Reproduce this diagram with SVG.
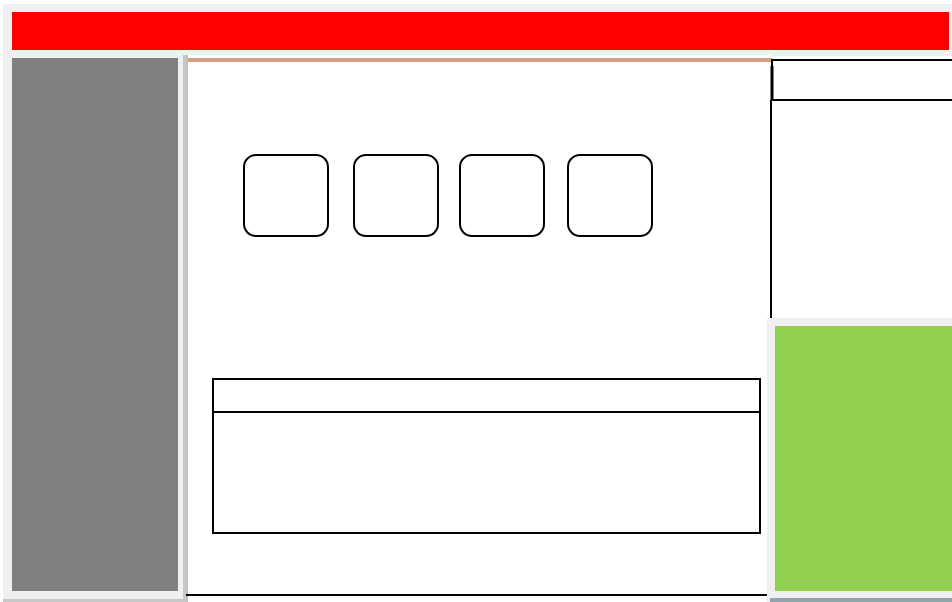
<svg xmlns="http://www.w3.org/2000/svg" width="952" height="602" viewBox="0 0 952 602">
<style>
.panel{fill:#f0f0f0}
.box{fill:#ffffff;stroke:#000000;stroke-width:2}
.tile{fill:#ffffff;stroke:#000000;stroke-width:2}
</style>
<rect width="952" height="602" fill="#ffffff"/>
<g id="header">
<rect class="panel" x="3" y="4" width="949" height="52"/>
<rect x="12" y="12" width="937" height="38" fill="#ff0000"/>
</g>
<g id="sidebar">
<rect class="panel" x="3" y="55" width="183" height="545"/>
<rect x="183" y="55" width="3" height="545" fill="#c8c8c8"/>
<rect x="3" y="599" width="183" height="3" fill="#c8c8c8"/>
<rect x="12" y="58" width="166" height="533" fill="#808080"/>
</g>
<g id="main">
<rect x="186" y="55" width="585" height="541" fill="#ffffff"/>
<rect x="186" y="55" width="2" height="547" fill="#c0c0c0"/>
<rect x="188" y="58" width="584" height="4" fill="#cfa383"/>
<line x1="186" y1="595" x2="768" y2="595" stroke="#000000" stroke-width="2"/>
</g>
<g id="tile1"><rect class="tile" x="244" y="155" width="84" height="81" rx="12"/></g>
<g id="tile2"><rect class="tile" x="354" y="155" width="84" height="81" rx="12"/></g>
<g id="tile3"><rect class="tile" x="460" y="155" width="84" height="81" rx="12"/></g>
<g id="tile4"><rect class="tile" x="568" y="155" width="84" height="81" rx="12"/></g>
<g id="table">
<rect class="box" x="213" y="379" width="547" height="154"/>
<line x1="213" y1="412" x2="760" y2="412" stroke="#000000" stroke-width="2"/>
</g>
<g id="rightpanel">
<rect class="box" x="772" y="60" width="184" height="40"/>
<line x1="772" y1="66" x2="772" y2="100" stroke="#000000" stroke-width="3"/>
<line x1="771" y1="100" x2="771" y2="318" stroke="#000000" stroke-width="2"/>
</g>
<g id="greenpanel">
<rect class="panel" x="767" y="318" width="185" height="284"/>
<rect x="775" y="326" width="177" height="265" fill="#92d050"/>
<rect x="770" y="598" width="182" height="4" fill="#90a4ab"/>
</g>
<g id="connectors"></g>
</svg>
